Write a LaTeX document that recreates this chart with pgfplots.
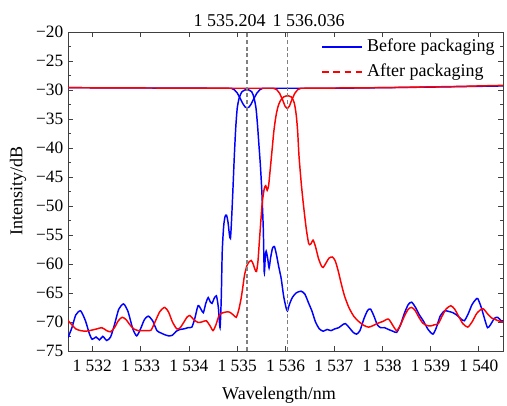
\documentclass[border=0pt]{standalone}
\usepackage{fontspec}
\setmainfont{Liberation Serif}
\usepackage{pgfplots}
\pgfplotsset{compat=1.18}

% reflection spectra (noise floor + main peak)
\pgfplotstableread{
x y
1531.50 -72.7
1531.58 -71.0
1531.66 -68.8
1531.76 -68.1
1531.86 -69.8
1531.94 -72.0
1532.00 -73.0
1532.08 -72.6
1532.15 -73.1
1532.22 -72.5
1532.30 -73.2
1532.38 -72.6
1532.46 -70.5
1532.55 -67.8
1532.65 -66.9
1532.74 -68.2
1532.84 -71.2
1532.92 -72.4
1533.00 -71.2
1533.08 -69.6
1533.16 -69.0
1533.25 -69.8
1533.34 -71.5
1533.42 -71.9
1533.50 -72.2
1533.58 -72.4
1533.66 -72.3
1533.74 -71.6
1533.82 -71.3
1533.90 -71.2
1533.98 -71.0
1534.06 -70.9
1534.12 -69.5
1534.19 -67.2
1534.25 -67.8
1534.30 -68.4
1534.35 -66.8
1534.40 -65.8
1534.44 -66.5
1534.48 -66.8
1534.52 -66.0
1534.57 -65.5
1534.61 -67.5
1534.645 -71.0
1534.67 -66.0
1534.69 -58.0
1534.72 -53.5
1534.75 -51.8
1534.78 -51.6
1534.81 -52.8
1534.84 -55.0
1534.86 -55.6
1534.88 -53.0
1534.91 -47.5
1534.94 -41.5
1534.97 -36.5
1535.00 -33.2
1535.04 -31.4
1535.10 -30.3
1535.20 -29.9
1535.30 -30.3
1535.35 -31.4
1535.39 -33.2
1535.42 -36.0
1535.45 -39.5
1535.48 -43.0
1535.51 -47.5
1535.54 -54.0
1535.56 -61.5
1535.58 -59.0
1535.60 -57.8
1535.63 -59.0
1535.66 -60.7
1535.69 -59.0
1535.73 -57.3
1535.77 -57.0
1535.81 -58.3
1535.86 -60.5
1535.91 -62.5
1535.96 -65.5
1536.01 -67.5
1536.04 -68.1
1536.08 -67.0
1536.14 -65.8
1536.22 -65.0
1536.32 -64.7
1536.40 -65.2
1536.48 -66.8
1536.55 -68.2
1536.62 -70.0
1536.70 -71.2
1536.78 -71.6
1536.86 -71.3
1536.94 -71.5
1537.02 -71.2
1537.10 -71.0
1537.18 -70.5
1537.24 -70.3
1537.32 -71.0
1537.40 -71.8
1537.47 -72.1
1537.54 -71.5
1537.62 -69.5
1537.70 -68.0
1537.76 -67.8
1537.83 -69.0
1537.90 -70.5
1537.97 -71.0
1538.05 -71.0
1538.13 -71.3
1538.22 -71.6
1538.30 -71.8
1538.38 -70.5
1538.46 -68.5
1538.54 -67.0
1538.61 -66.6
1538.69 -67.5
1538.77 -68.8
1538.85 -69.8
1538.95 -71.3
1539.05 -72.1
1539.12 -71.0
1539.20 -69.0
1539.29 -68.1
1539.38 -68.2
1539.46 -68.4
1539.54 -68.8
1539.62 -69.4
1539.70 -69.8
1539.78 -68.6
1539.86 -67.0
1539.94 -66.1
1539.98 -66.0
1540.05 -67.5
1540.12 -69.5
1540.18 -71.0
1540.24 -70.5
1540.32 -69.4
1540.39 -69.2
1540.46 -69.8
1540.50 -69.8
}\beforeR

\pgfplotstableread{
x y
1531.50 -69.8
1531.58 -70.5
1531.66 -71.2
1531.76 -71.5
1531.86 -71.6
1531.94 -71.5
1532.00 -71.4
1532.10 -71.2
1532.20 -71.0
1532.30 -71.5
1532.38 -71.7
1532.46 -71.0
1532.54 -69.8
1532.62 -69.2
1532.70 -69.6
1532.78 -70.5
1532.86 -71.2
1532.95 -71.5
1533.05 -71.5
1533.15 -71.5
1533.22 -71.4
1533.30 -70.0
1533.40 -68.2
1533.50 -67.5
1533.58 -68.3
1533.66 -70.0
1533.75 -71.2
1533.82 -71.0
1533.90 -70.0
1533.96 -69.2
1534.02 -68.9
1534.10 -69.6
1534.19 -70.1
1534.27 -70.0
1534.36 -69.8
1534.44 -70.7
1534.50 -71.5
1534.56 -70.5
1534.62 -69.0
1534.68 -68.5
1534.76 -68.3
1534.84 -68.3
1534.92 -68.8
1534.98 -69.2
1535.03 -68.0
1535.08 -66.0
1535.12 -63.8
1535.15 -62.0
1535.20 -60.3
1535.25 -59.6
1535.29 -59.4
1535.33 -60.0
1535.37 -61.0
1535.40 -61.3
1535.43 -59.5
1535.46 -56.0
1535.49 -52.5
1535.52 -49.3
1535.56 -47.0
1535.59 -46.5
1535.62 -47.3
1535.65 -46.5
1535.68 -44.0
1535.72 -40.5
1535.76 -37.0
1535.80 -34.6
1535.84 -33.0
1535.89 -31.9
1535.96 -31.2
1536.04 -31.0
1536.12 -31.2
1536.18 -32.2
1536.22 -34.2
1536.25 -37.0
1536.28 -41.5
1536.33 -46.5
1536.38 -50.5
1536.43 -54.0
1536.48 -56.5
1536.52 -56.6
1536.57 -55.9
1536.62 -57.0
1536.68 -59.0
1536.74 -60.3
1536.78 -60.6
1536.84 -59.8
1536.90 -59.0
1536.97 -58.8
1537.03 -59.5
1537.09 -61.2
1537.15 -63.3
1537.22 -65.5
1537.31 -67.5
1537.41 -69.0
1537.51 -69.9
1537.62 -70.6
1537.72 -70.9
1537.82 -70.6
1537.92 -70.2
1538.02 -69.9
1538.13 -69.5
1538.22 -70.6
1538.30 -71.5
1538.38 -70.5
1538.46 -69.0
1538.54 -67.8
1538.61 -67.5
1538.68 -68.0
1538.76 -69.2
1538.84 -70.2
1538.92 -70.6
1539.00 -70.7
1539.08 -70.5
1539.16 -70.3
1539.24 -69.0
1539.32 -67.8
1539.42 -67.2
1539.50 -67.8
1539.58 -69.0
1539.67 -70.3
1539.77 -70.9
1539.86 -70.0
1539.96 -68.5
1540.08 -67.7
1540.18 -68.6
1540.26 -69.3
1540.32 -69.5
1540.40 -69.8
1540.50 -70.0
}\afterR

% transmission spectra (flat level with notch)
\pgfplotstableread{
x y
1531.50 -29.60
1533.00 -29.65
1534.50 -29.70
1534.88 -29.70
1534.94 -29.95
1535.00 -30.50
1535.06 -31.40
1535.12 -32.40
1535.16 -32.90
1535.204 -33.10
1535.25 -32.90
1535.29 -32.40
1535.35 -31.40
1535.41 -30.50
1535.47 -29.95
1535.53 -29.70
1537.00 -29.70
1539.00 -29.50
1540.50 -29.30
}\beforeT

\pgfplotstableread{
x y
1531.50 -29.60
1533.00 -29.65
1535.00 -29.70
1535.75 -29.70
1535.82 -29.95
1535.88 -30.60
1535.94 -31.70
1535.99 -32.80
1536.036 -33.20
1536.08 -32.80
1536.13 -31.70
1536.19 -30.60
1536.25 -29.95
1536.32 -29.70
1538.00 -29.60
1539.50 -29.40
1540.50 -29.20
}\afterT

\begin{document}
\begin{tikzpicture}[font=\fontsize{13.5}{16}\selectfont]
\begin{axis}[
    width=326pt, height=239pt, scale only axis,
    clip mode=individual,
    xmin=1531.5, xmax=1540.5,
    ymin=-75, ymax=-20,
    xtick={1532,1533,...,1540},
    xticklabels={1 532,1 533,1 534,1 535,1 536,1 537,1 538,1 539,1 540},
    ytick={-75,-70,...,-20},
    yticklabels={−75,−70,−65,−60,−55,−50,−45,−40,−35,−30,−25,−20},
    minor x tick num=1, minor y tick num=1,
    tick align=inside,
    major tick length=4pt, minor tick length=2.5pt,
    every tick/.style={black!75, line width=0.5pt},
    axis line style={black!75, line width=0.6pt},
    tick label style={font=\fontsize{13}{15}\selectfont},
    xticklabel style={yshift=-3pt},
    xlabel={Wavelength/nm}, ylabel={Intensity/dB},
    xlabel style={at={(axis description cs:0.485,-0.14)}, anchor=center},
    ylabel style={at={(axis description cs:-0.115,0.5)}, anchor=center},
]
\addplot[blue, line width=1.1pt] table[x=x,y=y] {\beforeT};
\addplot[blue, line width=1.1pt, smooth, tension=0.4] table[x=x,y=y] {\beforeR};
\addplot[red, line width=1.1pt] table[x=x,y=y] {\afterT};
\addplot[red, line width=1.1pt, smooth, tension=0.4] table[x=x,y=y] {\afterR};

\draw[gray, line width=0.9pt, dash pattern=on 3pt off 2pt] (axis cs:1535.204,-75) -- (axis cs:1535.204,-20);
\draw[gray, line width=0.9pt, dash pattern=on 3pt off 2pt] (axis cs:1536.036,-75) -- (axis cs:1536.036,-20);
\node[anchor=base, yshift=4pt, xshift=-13pt] at (axis cs:1535.204,-20) {1 535.204};
\node[anchor=base, yshift=4pt, xshift=16pt] at (axis cs:1536.036,-20) {1 536.036};

% legend
\draw[blue, line width=1.1pt] (axis description cs:0.584,0.953) -- (axis description cs:0.676,0.953);
\node[anchor=west, inner sep=0pt] at (axis description cs:0.687,0.953) {Before packaging};
\draw[red, line width=1.1pt, dash pattern=on 5pt off 3.5pt] (axis description cs:0.584,0.875) -- (axis description cs:0.676,0.875);
\node[anchor=west, inner sep=0pt] at (axis description cs:0.687,0.875) {After packaging};

\coordinate (sw) at (rel axis cs:0,0);
\coordinate (ne) at (rel axis cs:1,1);
\end{axis}
\pgfresetboundingbox
\path ([shift={(-51pt,-41.25pt)}]sw) rectangle ([shift={(3pt,24pt)}]ne);
\end{tikzpicture}
\end{document}
